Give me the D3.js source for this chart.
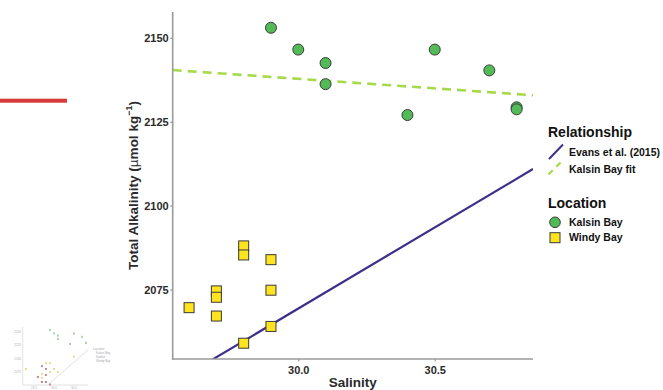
<!DOCTYPE html>
<html>
<head>
<meta charset="utf-8">
<script src="https://cdn.jsdelivr.net/npm/d3@7"></script>
<style>
  body { margin: 0; background: #fff; }
  svg { display: block; font-family: "Liberation Sans", Arial, sans-serif; }
</style>
</head>
<body>
<svg id="chart" width="663" height="390"></svg>
<script>
// Kalsin Bay samples
var kalsinSal = [29.9, 30.0, 30.1, 30.1, 30.4, 30.5, 30.7, 30.8, 30.8];
var kalsinTA  = [2153, 2146.5, 2142.5, 2136.2, 2127, 2146.5, 2140.3, 2129.3, 2128.7];

// Windy Bay samples
var windySal = [29.6, 29.7, 29.7, 29.7, 29.8, 29.8, 29.8, 29.9, 29.9, 29.9];
var windyTA  = [2069.6, 2074.6, 2072.7, 2067.1, 2088, 2085.3, 2059, 2083.9, 2074.8, 2064];

// relationship lines (end points)
var evansSal = [29.54, 30.86];
var evansTA  = [2047.1, 2110.9];
var fitSal   = [29.54, 30.86];
var fitTA    = [2140.4, 2132.9];

var xTicks = [30.0, 30.5];
var yTicks = [2075, 2100, 2125, 2150];

// thumbnail extra data
var thumbYellowSal = [29.3, 29.8, 29.9, 30.0, 30.1, 29.7, 29.7, 29.9, 30.5];
var thumbYellowTA  = [2080.7, 2091.8, 2091.8, 2080.7, 2075, 2071.4, 2064, 2075, 2103.5];
var thumbRedSal = [29.8, 29.7, 29.6, 29.8, 29.7, 29.8, 29.9];
var thumbRedTA  = [2080.7, 2056.6, 2066, 2056.6, 2086, 2069.6, 2052];
var thumbLineSal = [29.9, 30.85];
var thumbLineTA  = [2054.8, 2116];
var thumbLegend = ["Location", "Kalsin Bay", "Kodiak", "Windy Bay"];

var svg = d3.select("#chart");

var colGreen = "#52bb57", colYellow = "#fde41f", colPurple = "#3e2f8a", colFit = "#a6da4b";
var axisCol = "#9a9a9a", textCol = "#2a2a2a";

var plotL = 172.7, plotR = 533, plotT = 12, plotB = 359;

var x = d3.scaleLinear().domain([29.54, 30.86]).range([plotL, plotR]);
var y = d3.scaleLinear().domain([2054.3, 2157.7]).range([plotB, plotT]);

// red bar on the left
svg.append("rect").attr("x", 0).attr("y", 98.7).attr("width", 67).attr("height", 4).attr("fill", "#d63a3a");

// clip for lines
svg.append("clipPath").attr("id", "plotClip")
  .append("rect").attr("x", plotL).attr("y", plotT).attr("width", plotR - plotL).attr("height", plotB - plotT);

var line = d3.line().x(function(d){return x(d[0]);}).y(function(d){return y(d[1]);});

svg.append("path")
  .datum(d3.zip(evansSal, evansTA))
  .attr("d", line)
  .attr("clip-path", "url(#plotClip)")
  .attr("fill", "none").attr("stroke", colPurple).attr("stroke-width", 2.2);

svg.append("path")
  .datum(d3.zip(fitSal, fitTA))
  .attr("d", line)
  .attr("clip-path", "url(#plotClip)")
  .attr("fill", "none").attr("stroke", colFit).attr("stroke-width", 2.6)
  .attr("stroke-dasharray", "9,6");

// axes
var xAxis = svg.append("g")
  .attr("transform", "translate(0," + plotB + ")")
  .call(d3.axisBottom(x).tickValues(xTicks).tickFormat(d3.format(".1f")).tickSize(2.5).tickSizeOuter(0));
var yAxis = svg.append("g")
  .attr("transform", "translate(" + plotL + ",0)")
  .call(d3.axisLeft(y).tickValues(yTicks).tickFormat(d3.format("d")).tickSize(2.5).tickSizeOuter(0));

[xAxis, yAxis].forEach(function(a){
  a.select(".domain").attr("stroke", axisCol).attr("stroke-width", 1.6);
  a.selectAll(".tick line").attr("stroke", axisCol).attr("stroke-width", 1.2);
  a.selectAll(".tick text").attr("fill", textCol)
    .style("font-size", "11px").style("font-weight", "bold")
    .style("font-family", "'Liberation Sans', Arial, sans-serif");
});
xAxis.selectAll(".tick text").attr("dy", "0.9em");
yAxis.selectAll(".tick text").attr("x", -4);
// extend domains to full plot edges
xAxis.select(".domain").attr("d", "M" + (plotL - 0.8) + ",0H" + plotR);
yAxis.select(".domain").attr("d", "M0," + plotT + "V" + (plotB + 0.8));

// points
svg.append("g").selectAll("rect")
  .data(d3.zip(windySal, windyTA))
  .enter().append("rect")
  .attr("x", function(d){return x(d[0]) - 5;})
  .attr("y", function(d){return y(d[1]) - 5;})
  .attr("width", 10).attr("height", 10)
  .attr("fill", colYellow).attr("stroke", "#3a3a3a").attr("stroke-width", 1);

svg.append("g").selectAll("circle")
  .data(d3.zip(kalsinSal, kalsinTA))
  .enter().append("circle")
  .attr("cx", function(d){return x(d[0]);})
  .attr("cy", function(d){return y(d[1]);})
  .attr("r", 5.5)
  .attr("fill", colGreen).attr("stroke", "#3a3a3a").attr("stroke-width", 1);

// axis titles
svg.append("text")
  .attr("x", (plotL + plotR) / 2).attr("y", 387)
  .attr("text-anchor", "middle")
  .style("font-size", "13.5px").style("font-weight", "bold").attr("fill", textCol)
  .text("Salinity");

var yTitle = svg.append("text")
  .attr("transform", "translate(137.5," + ((plotT + plotB) / 2) + ") rotate(-90)")
  .attr("text-anchor", "middle")
  .style("font-size", "13.5px").style("font-weight", "bold").attr("fill", textCol);
yTitle.append("tspan").text("Total Alkalinity (");
yTitle.append("tspan").style("font-weight", "normal").text("\u00b5");
yTitle.append("tspan").text("mol kg");
yTitle.append("tspan").attr("dy", -6).style("font-size", "9px").text("\u22121");
yTitle.append("tspan").attr("dy", 6).text(")");

// legend
var leg = svg.append("g");
leg.append("text").attr("x", 548).attr("y", 137.3)
  .style("font-size", "14px").style("font-weight", "bold").attr("fill", "#111").text("Relationship");
leg.append("line").attr("x1", 549).attr("y1", 159).attr("x2", 563).attr("y2", 144.5)
  .attr("stroke", colPurple).attr("stroke-width", 2);
leg.append("line").attr("x1", 548.5).attr("y1", 174.5).attr("x2", 563.5).attr("y2", 159.5)
  .attr("stroke", colFit).attr("stroke-width", 2.2).attr("stroke-dasharray", "6,5");

var relLabels = ["Evans et al. (2015)", "Kalsin Bay fit"];
leg.selectAll(".rel").data(relLabels).enter().append("text")
  .attr("x", 569).attr("y", function(d, i){return 152.7 + i * 16.6;})
  .attr("dy", "0.35em")
  .style("font-size", "10.5px").style("font-weight", "bold").attr("fill", "#111")
  .text(function(d){return d;});

leg.append("text").attr("x", 548).attr("y", 207.7)
  .style("font-size", "14px").style("font-weight", "bold").attr("fill", "#111").text("Location");
leg.append("circle").attr("cx", 555).attr("cy", 222.3).attr("r", 5.3)
  .attr("fill", colGreen).attr("stroke", "#3a3a3a").attr("stroke-width", 1);
leg.append("rect").attr("x", 550).attr("y", 232.7).attr("width", 10).attr("height", 10)
  .attr("fill", colYellow).attr("stroke", "#3a3a3a").attr("stroke-width", 1);
var locLabels = ["Kalsin Bay", "Windy Bay"];
leg.selectAll(".loc").data(locLabels).enter().append("text")
  .attr("x", 569).attr("y", function(d, i){return 222.3 + i * 15.4;})
  .attr("dy", "0.35em")
  .style("font-size", "10.5px").style("font-weight", "bold").attr("fill", "#111")
  .text(function(d){return d;});

// small faded thumbnail bottom-left
var th = svg.append("g").attr("opacity", 0.55);
var tx = d3.scaleLinear().domain([29.22, 30.85]).range([22.7, 88]);
var ty = d3.scaleLinear().domain([2051, 2158.5]).range([385, 327]);
th.append("path").attr("d", "M22.7,327V385H88").attr("fill", "none").attr("stroke", "#aaa").attr("stroke-width", 0.6);
th.append("path").datum(d3.zip(thumbLineSal, thumbLineTA))
  .attr("d", d3.line().x(function(d){return tx(d[0]);}).y(function(d){return ty(d[1]);}))
  .attr("stroke", "#bbb").attr("stroke-width", 0.8).attr("fill", "none");
function thumbDots(sal, ta, col){
  th.append("g").selectAll("rect").data(d3.zip(sal, ta)).enter().append("rect")
    .attr("x", function(d){return tx(d[0]) - 1;})
    .attr("y", function(d){return ty(d[1]) - 1;})
    .attr("width", 2).attr("height", 2).attr("fill", col);
}
thumbDots(kalsinSal, kalsinTA, "#5fb35f");
thumbDots(thumbYellowSal, thumbYellowTA, "#d8c23a");
thumbDots(thumbRedSal, thumbRedTA, "#8c2a2a");
th.selectAll(".tl").data(thumbLegend).enter().append("text")
  .attr("x", function(d, i){return i === 0 ? 93 : 96;})
  .attr("y", function(d, i){return 350 + i * 4;})
  .style("font-size", "3px").attr("fill", "#555")
  .text(function(d){return d;});
th.selectAll(".tk").data([29.5, 30.0, 30.5]).enter().append("text")
  .attr("x", function(d){return tx(d);}).attr("y", 389)
  .attr("text-anchor", "middle").style("font-size", "3px").attr("fill", "#666")
  .text(function(d){return d.toFixed(1);});
th.selectAll(".tky").data([2075, 2100, 2125, 2150]).enter().append("text")
  .attr("x", 21).attr("y", function(d){return ty(d) + 1;})
  .attr("text-anchor", "end").style("font-size", "3px").attr("fill", "#666")
  .text(function(d){return d;});
</script>
</body>
</html>
